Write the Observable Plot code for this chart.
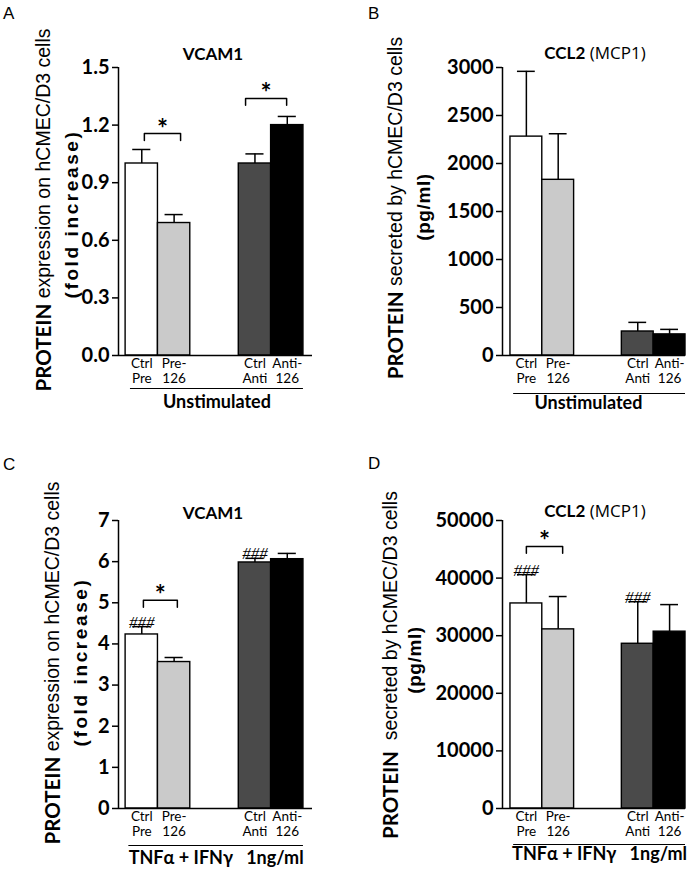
<!DOCTYPE html>
<html><head><meta charset="utf-8">
<script src="https://cdn.jsdelivr.net/npm/d3@7"></script>
<script src="https://cdn.jsdelivr.net/npm/@observablehq/plot@0.6"></script>
<style>
body{margin:0;background:#fff;}
#fig{position:relative;width:697px;height:872px;overflow:hidden;background:#fff}
.panel{position:absolute;width:347px;}
.panel svg{display:block;max-width:none;}
</style></head><body><div id="fig"></div>
<script>
// ---------- data ----------
const categories = ["Ctrl\nPre", "Pre-\n126", "Ctrl\nAnti", "Anti-\n126"];

// A: VCAM1, unstimulated (fold increase)
const vcamUnstimMean = [1.00, 0.69, 1.00, 1.20];
const vcamUnstimErr  = [0.073, 0.044, 0.05, 0.045];
const vcamUnstimTicks = [0, 0.3, 0.6, 0.9, 1.2, 1.5];

// B: CCL2, unstimulated (pg/ml)
const ccl2UnstimMean = [2280, 1830, 250, 220];
const ccl2UnstimErr  = [680, 480, 95, 52];
const ccl2UnstimTicks = [0, 500, 1000, 1500, 2000, 2500, 3000];

// C: VCAM1, TNFa + IFNg (fold increase)
const vcamTnfMean = [4.23, 3.56, 5.98, 6.06];
const vcamTnfErr  = [0.19, 0.11, 0.10, 0.14];
const vcamTnfHash = [true, false, true, false];
const vcamTnfTicks = [0, 1, 2, 3, 4, 5, 6, 7];

// D: CCL2, TNFa + IFNg (pg/ml)
const ccl2TnfMean = [35600, 31100, 28600, 30700];
const ccl2TnfErr  = [5000, 5700, 7300, 4700];
const ccl2TnfHash = [true, false, true, false];
const ccl2TnfTicks = [0, 10000, 20000, 30000, 40000, 50000];

// significance brackets: [fromBar, toBar, bracket height]
const sigA = [[0, 1, 1.156], [2, 3, 1.339]];
const sigB = [];
const sigC = [[0, 1, 5.06]];
const sigD = [[0, 1, 45500]];

// ---------- styling / layout ----------
const fills = ["#ffffff", "#cacaca", "#4a4a4a", "#000000"];
const barStart = [0, 1, 3.5, 4.5];

const panels = [
  {key:"A", left:0, top:0, height:420, mL:118, mR:35, mT:67, mB:65, xd:[-0.22,5.78],
   mean:vcamUnstimMean, err:vcamUnstimErr, hash:null, ticks:vcamUnstimTicks, fmt:d3.format(".1f"),
   sig:sigA, sigShift:[[0.08,0.2],[-0.29,-0.02]], group:"Unstimulated", ul:[0.15,5.5], gShift:0, ulDy:33, gDy:52,
   title:[["VCAM1",true]], titleX:213, titleY:53,
   y1:[["PROTEIN",true],[" expression on hCMEC/D3 cells",false]], y1x:43, y1y:210,
   y2:"(fold increase)", y2ls:2.6, y2x:71, y2y:214, lx:3, ly:13},
  {key:"B", left:350, top:0, height:420, mL:152, mR:12, mT:67, mB:65, xd:[-0.25,5.5],
   mean:ccl2UnstimMean, err:ccl2UnstimErr, hash:null, ticks:ccl2UnstimTicks, fmt:d3.format("d"),
   sig:sigB, sigShift:[], group:"Unstimulated", ul:[0.1,5.5], gShift:-0.35, ulDy:38, gDy:53,
   title:[["CCL2",true],[" (MCP1)",false]], titleX:245, titleY:52,
   y1:[["PROTEIN",true],[" secreted by hCMEC/D3 cells",false]], y1x:45, y1y:208,
   y2:"(pg/ml)", y2ls:0.6, y2x:73, y2y:207, lx:18, ly:13},
  {key:"C", left:0, top:420, height:452, mL:118, mR:35, mT:100, mB:64, xd:[-0.22,5.78],
   mean:vcamTnfMean, err:vcamTnfErr, hash:vcamTnfHash, ticks:vcamTnfTicks, fmt:d3.format("d"),
   sig:sigC, sigShift:[[0.05,0.1]], group:"TNF\u03b1 + IFN\u03b3\u00a0\u00a0\u00a01ng/ml", ul:[0.1,5.5], gShift:0, ulDy:37, gDy:55,
   title:[["VCAM1",true]], titleX:213, titleY:92,
   y1:[["PROTEIN",true],[" expression on hCMEC/D3 cells",false]], y1x:52, y1y:243,
   y2:"(fold increase)", y2ls:2.6, y2x:80, y2y:242, lx:3, ly:44},
  {key:"D", left:350, top:420, height:452, mL:152, mR:12, mT:100, mB:64, xd:[-0.25,5.5],
   mean:ccl2TnfMean, err:ccl2TnfErr, hash:ccl2TnfHash, ticks:ccl2TnfTicks, fmt:d3.format("d"),
   sig:sigD, sigShift:[[0.0,0.14]], group:"TNF\u03b1 + IFN\u03b3\u00a0\u00a0\u00a01ng/ml", ul:[0.1,5.5], gShift:0, ulDy:36, gDy:51,
   title:[["CCL2",true],[" (MCP1)",false]], titleX:245, titleY:90,
   y1:[["PROTEIN",true],["\u00a0\u00a0secreted by hCMEC/D3 cells",false]], y1x:40, y1y:245,
   y2:"(pg/ml)", y2ls:0.6, y2x:64, y2y:240, lx:18, ly:43}
];

const fig = document.getElementById("fig");

for (const p of panels) {
  const rows = categories.map((c, i) => ({
    cat: c, x1: barStart[i], x2: barStart[i] + 1, cx: barStart[i] + 0.5,
    mean: p.mean[i], top: p.mean[i] + p.err[i], fill: fills[i], hash: p.hash ? p.hash[i] : false
  }));
  const ymax = p.ticks[p.ticks.length - 1];
  const drop = ymax * 0.024;
  const brackets = p.sig.map(([a, b, y], k) => {
    const s = p.sigShift[k] || [0, 0];
    return {xa: rows[a].cx + s[0], xb: rows[b].cx + s[1], y};
  });
  const bracketPts = brackets.flatMap((br, k) => [
    {k, x: br.xa, y: br.y - drop}, {k, x: br.xa, y: br.y}, {k, x: br.xb, y: br.y}, {k, x: br.xb, y: br.y - drop}
  ]);
  const centers = rows.map(r => r.cx);

  const svg = Plot.plot({
    width: 347, height: p.height,
    marginLeft: p.mL, marginRight: p.mR, marginTop: p.mT, marginBottom: p.mB,
    style: {fontFamily: "Lato, sans-serif", color: "#000", background: "transparent", overflow: "visible"},
    x: {domain: p.xd, axis: null},
    y: {domain: [0, ymax], axis: null},
    color: {type: "identity"},
    marks: [
      Plot.rectY(rows, {x1: "x1", x2: "x2", y1: 0, y2: "mean", fill: "fill", stroke: "#000", strokeWidth: 1.4}),
      Plot.ruleX(rows, {x: "cx", y1: "mean", y2: "top", stroke: "#000", strokeWidth: 1.5}),
      Plot.ruleY(rows, {y: "top", x1: d => d.cx - 0.28, x2: d => d.cx + 0.28, stroke: "#000", strokeWidth: 1.5}),
      Plot.ruleY([0], {stroke: "#000", strokeWidth: 1.6}),
      Plot.ruleX([p.xd[0]], {y1: 0, y2: ymax, stroke: "#000", strokeWidth: 1.5}),
      Plot.axisY({ticks: p.ticks, tickFormat: p.fmt, tickSize: 6, tickPadding: 3, strokeWidth: 1.5,
                  fontSize: 20, fontWeight: "bold", label: null}),
      Plot.axisX({ticks: centers, tickFormat: d => categories[centers.indexOf(d)], tickSize: 0, tickPadding: 2,
                  fontSize: 13.5, lineHeight: 1.12, label: null}),
      Plot.line(bracketPts, {x: "x", y: "y", z: "k", stroke: "#000", strokeWidth: 1.5}),
      Plot.text(brackets, {x: d => (d.xa + d.xb) / 2, y: "y", text: () => "*", fontSize: 26, fontWeight: "bold", dy: 4, lineAnchor: "bottom"}),
      Plot.text(rows.filter(r => r.hash), {x: "cx", y: "top", text: () => "###", fontSize: 17, fontStyle: "italic",
                fontFamily: "Liberation Serif, serif", letterSpacing: 1, dy: 1, lineAnchor: "bottom"}),
      Plot.ruleY([0], {x1: p.ul[0], x2: p.ul[1], dy: p.ulDy, stroke: "#000", strokeWidth: 1.2}),
      Plot.text([p.group], {x: (p.ul[0] + p.ul[1]) / 2 + p.gShift, frameAnchor: "bottom", dy: p.gDy, fontSize: 18, fontWeight: "bold"})
    ]
  });

  // extra SVG labels (panel letter, title, y-axis titles with mixed weights)
  const s = d3.select(svg);
  const addText = (parts, x, y, size, rotate, family) => {
    const t = s.append("text")
      .attr("transform", `translate(${x},${y})` + (rotate ? " rotate(-90)" : ""))
      .attr("text-anchor", "middle").attr("dominant-baseline", "central")
      .attr("font-size", size).attr("fill", "#000").style("white-space", "pre");
    for (const [str, bold] of parts) {
      t.append("tspan").text(str)
        .attr("font-family", bold ? "Lato, sans-serif" : (family || "'Liberation Sans', Arial, sans-serif"))
        .attr("font-weight", bold ? "bold" : "normal");
    }
    return t;
  };
  addText([[p.key, false]], p.lx, p.ly, 17, false).attr("text-anchor", "start");
  addText(p.title, p.titleX, p.titleY, 17, false, "'Open Sans', sans-serif");
  const l1 = addText(p.y1, p.y1x, p.y1y, 19.5, true);
  l1.select("tspan").attr("font-size", 20.5);
  s.append("text")
    .attr("transform", `translate(${p.y2x},${p.y2y}) rotate(-90)`)
    .attr("text-anchor", "middle").attr("dominant-baseline", "central")
    .attr("font-family", "'Liberation Sans', Arial, sans-serif").attr("font-weight", "bold")
    .attr("font-size", 19).attr("letter-spacing", p.y2ls).attr("fill", "#000")
    .text(p.y2);

  const div = document.createElement("div");
  div.className = "panel";
  div.style.left = p.left + "px";
  div.style.top = p.top + "px";
  div.appendChild(svg);
  fig.appendChild(div);
}
</script></body></html>
